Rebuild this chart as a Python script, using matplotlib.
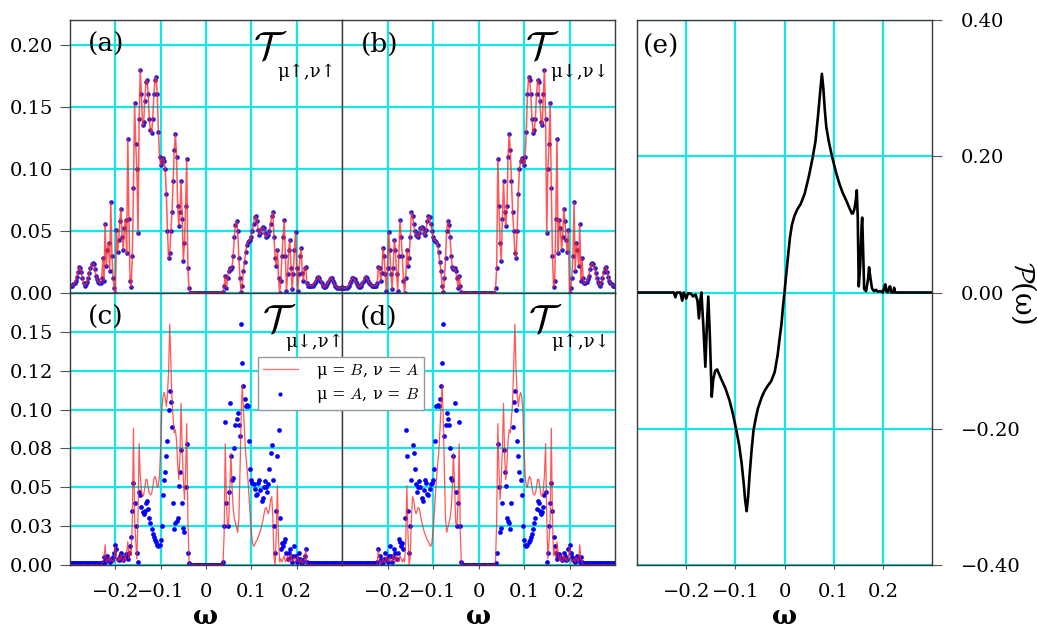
import numpy as np
import matplotlib
matplotlib.use("Agg")
import matplotlib.pyplot as plt
from matplotlib.lines import Line2D

# omega grid of panels (a)-(d), step 0.0025 from -0.3 to 0.3 (241 points)
omega = np.round(np.arange(-120, 121) * 0.0025, 4)

# (a) T_{mu up, nu up}; the two orderings coincide here. (b) is its mirror image.
t_upup = [
    0.006, 0.006, 0.006, 0.007, 0.008, 0.010, 0.013, 0.017, 0.021, 0.020,
    0.017, 0.012, 0.008, 0.006, 0.007, 0.009, 0.012, 0.016, 0.020, 0.023,
    0.024, 0.023, 0.019, 0.014, 0.011, 0.009, 0.008, 0.008, 0.012, 0.028,
    0.010, 0.056, 0.022, 0.035, 0.040, 0.018, 0.073, 0.030, 0.012, 0.004,
    0.000, 0.051, 0.033, 0.043, 0.058, 0.068, 0.045, 0.035, 0.052, 0.059,
    0.032, 0.124, 0.060, 0.010, 0.005, 0.030, 0.085, 0.153, 0.120, 0.100,
    0.048, 0.140, 0.180, 0.160, 0.135, 0.138, 0.155, 0.170, 0.172, 0.160,
    0.140, 0.131, 0.129, 0.140, 0.160, 0.172, 0.174, 0.160, 0.130, 0.110,
    0.103, 0.106, 0.109, 0.106, 0.100, 0.080, 0.050, 0.028, 0.032, 0.050,
    0.065, 0.090, 0.115, 0.128, 0.110, 0.070, 0.054, 0.065, 0.090, 0.060,
    0.026, 0.040, 0.070, 0.108, 0.020, 0.004, 0.000, 0.000, 0.000, 0.000,
    0.000, 0.000, 0.000, 0.000, 0.000, 0.000, 0.000, 0.000, 0.000, 0.000,
    0.000, 0.000, 0.000, 0.000, 0.000, 0.000, 0.000, 0.000, 0.000, 0.000,
    0.000, 0.000, 0.000, 0.000, 0.000, 0.001, 0.006, 0.014, 0.004, 0.012,
    0.018, 0.020, 0.019, 0.021, 0.030, 0.045, 0.055, 0.058, 0.050, 0.028,
    0.012, 0.001, 0.006, 0.018, 0.025, 0.033, 0.039, 0.041, 0.042, 0.043,
    0.045, 0.050, 0.056, 0.061, 0.062, 0.058, 0.051, 0.047, 0.048, 0.052,
    0.053, 0.052, 0.048, 0.045, 0.046, 0.047, 0.050, 0.056, 0.062, 0.065,
    0.045, 0.028, 0.022, 0.035, 0.012, 0.000, 0.010, 0.030, 0.045, 0.059,
    0.030, 0.002, 0.015, 0.035, 0.043, 0.020, 0.003, 0.015, 0.035, 0.049,
    0.020, 0.002, 0.015, 0.030, 0.036, 0.016, 0.010, 0.020, 0.021, 0.008,
    0.006, 0.006, 0.006, 0.006, 0.006, 0.007, 0.008, 0.010, 0.012, 0.013,
    0.012, 0.010, 0.008, 0.006, 0.005, 0.005, 0.006, 0.007, 0.009, 0.011,
    0.012, 0.012, 0.010, 0.008, 0.006, 0.005, 0.004, 0.004, 0.004, 0.004,
    0.005,
]

# (c) T_{mu down, nu up}; (d) is its mirror image
t_dnup_BA = [
    0.000, 0.000, 0.000, 0.000, 0.000, 0.000, 0.000, 0.000, 0.000, 0.000,
    0.000, 0.000, 0.000, 0.000, 0.000, 0.000, 0.000, 0.000, 0.000, 0.000,
    0.000, 0.000, 0.000, 0.000, 0.000, 0.000, 0.000, 0.000, 0.000, 0.002,
    0.004, 0.013, 0.002, 0.003, 0.005, 0.002, 0.004, 0.003, 0.002, 0.005,
    0.012, 0.004, 0.002, 0.005, 0.003, 0.007, 0.003, 0.002, 0.006, 0.003,
    0.008, 0.015, 0.004, 0.010, 0.006, 0.030, 0.088, 0.030, 0.015, 0.004,
    0.030, 0.078, 0.058, 0.048, 0.044, 0.045, 0.050, 0.055, 0.055, 0.050,
    0.046, 0.045, 0.046, 0.050, 0.055, 0.057, 0.055, 0.050, 0.051, 0.058,
    0.075, 0.100, 0.108, 0.111, 0.108, 0.102, 0.110, 0.125, 0.155, 0.130,
    0.105, 0.095, 0.085, 0.087, 0.080, 0.065, 0.055, 0.070, 0.104, 0.075,
    0.055, 0.042, 0.060, 0.091, 0.030, 0.002, 0.000, 0.000, 0.000, 0.000,
    0.000, 0.000, 0.000, 0.000, 0.000, 0.000, 0.000, 0.000, 0.000, 0.000,
    0.000, 0.000, 0.000, 0.000, 0.000, 0.000, 0.000, 0.000, 0.000, 0.000,
    0.000, 0.000, 0.000, 0.000, 0.000, 0.001, 0.020, 0.078, 0.040, 0.025,
    0.027, 0.050, 0.072, 0.050, 0.036, 0.030, 0.027, 0.024, 0.021, 0.030,
    0.060, 0.095, 0.116, 0.100, 0.085, 0.072, 0.064, 0.055, 0.044, 0.032,
    0.021, 0.014, 0.012, 0.013, 0.015, 0.016, 0.018, 0.020, 0.022, 0.025,
    0.028, 0.032, 0.036, 0.037, 0.035, 0.033, 0.036, 0.042, 0.044, 0.030,
    0.005, 0.000, 0.020, 0.051, 0.015, 0.002, 0.004, 0.002, 0.004, 0.006,
    0.002, 0.003, 0.006, 0.002, 0.004, 0.007, 0.002, 0.003, 0.005, 0.002,
    0.003, 0.006, 0.002, 0.002, 0.004, 0.001, 0.002, 0.003, 0.010, 0.001,
    0.000, 0.000, 0.000, 0.000, 0.000, 0.000, 0.000, 0.000, 0.000, 0.000,
    0.000, 0.000, 0.000, 0.000, 0.000, 0.000, 0.000, 0.000, 0.000, 0.000,
    0.000, 0.000, 0.000, 0.000, 0.000, 0.000, 0.000, 0.000, 0.000, 0.000,
    0.000,
]

t_dnup_AB = [
    0.001, 0.001, 0.001, 0.001, 0.001, 0.001, 0.001, 0.001, 0.001, 0.001,
    0.001, 0.001, 0.001, 0.001, 0.001, 0.001, 0.001, 0.001, 0.001, 0.001,
    0.001, 0.001, 0.001, 0.001, 0.001, 0.001, 0.001, 0.001, 0.001, 0.002,
    0.005, 0.002, 0.004, 0.006, 0.003, 0.002, 0.004, 0.003, 0.005, 0.008,
    0.013, 0.010, 0.004, 0.003, 0.006, 0.008, 0.004, 0.003, 0.005, 0.007,
    0.006, 0.004, 0.008, 0.012, 0.018, 0.035, 0.053, 0.040, 0.025, 0.008,
    0.002, 0.047, 0.045, 0.037, 0.034, 0.033, 0.035, 0.040, 0.041, 0.036,
    0.030, 0.027, 0.023, 0.020, 0.018, 0.016, 0.015, 0.013, 0.012, 0.013,
    0.016, 0.025, 0.045, 0.055, 0.060, 0.070, 0.080, 0.100, 0.112, 0.105,
    0.089, 0.040, 0.023, 0.027, 0.028, 0.030, 0.051, 0.060, 0.074, 0.040,
    0.024, 0.021, 0.050, 0.078, 0.008, 0.001, 0.000, 0.000, 0.000, 0.000,
    0.000, 0.000, 0.000, 0.000, 0.000, 0.000, 0.000, 0.000, 0.000, 0.000,
    0.000, 0.000, 0.000, 0.000, 0.000, 0.000, 0.000, 0.000, 0.000, 0.000,
    0.000, 0.000, 0.000, 0.000, 0.000, 0.002, 0.025, 0.092, 0.040, 0.025,
    0.047, 0.104, 0.070, 0.055, 0.056, 0.075, 0.090, 0.094, 0.098, 0.090,
    0.083, 0.155, 0.130, 0.115, 0.107, 0.102, 0.103, 0.102, 0.080, 0.062,
    0.055, 0.053, 0.052, 0.049, 0.045, 0.046, 0.053, 0.055, 0.048, 0.041,
    0.043, 0.050, 0.054, 0.050, 0.047, 0.052, 0.062, 0.072, 0.077, 0.055,
    0.025, 0.008, 0.035, 0.070, 0.087, 0.030, 0.010, 0.014, 0.012, 0.015,
    0.017, 0.008, 0.004, 0.008, 0.010, 0.005, 0.002, 0.006, 0.012, 0.006,
    0.002, 0.004, 0.008, 0.004, 0.002, 0.001, 0.003, 0.006, 0.010, 0.002,
    0.001, 0.001, 0.001, 0.001, 0.001, 0.001, 0.001, 0.001, 0.001, 0.001,
    0.001, 0.001, 0.001, 0.001, 0.001, 0.001, 0.001, 0.001, 0.001, 0.001,
    0.001, 0.001, 0.001, 0.001, 0.001, 0.001, 0.001, 0.001, 0.001, 0.001,
    0.001,
]

# (e) polarisation P(omega)
omega_e = [
    -0.300, -0.225, -0.222, -0.219, -0.212, -0.208, -0.205, -0.200, -0.196,
    -0.190, -0.186, -0.181, -0.177, -0.174, -0.171, -0.169, -0.165, -0.161,
    -0.158, -0.155, -0.152, -0.148, -0.145, -0.141, -0.137, -0.130, -0.120,
    -0.112, -0.105, -0.098, -0.092, -0.087, -0.083, -0.080, -0.077, -0.074,
    -0.071, -0.067, -0.063, -0.058, -0.054, -0.047, -0.041, -0.035, -0.027,
    -0.020, -0.014, -0.010, -0.006, -0.003, 0.000, 0.003, 0.007, 0.011,
    0.015, 0.020, 0.026, 0.033, 0.041, 0.050, 0.057, 0.063, 0.068, 0.072,
    0.076, 0.079, 0.082, 0.085, 0.090, 0.095, 0.100, 0.106, 0.112, 0.118,
    0.125, 0.132, 0.137, 0.139, 0.142, 0.145, 0.147, 0.149, 0.151, 0.154,
    0.157, 0.158, 0.160, 0.162, 0.166, 0.170, 0.172, 0.175, 0.178, 0.182,
    0.186, 0.190, 0.195, 0.200, 0.203, 0.205, 0.207, 0.210, 0.213, 0.215,
    0.217, 0.221, 0.223, 0.225, 0.300,
]
pol_e = [
    0.000, 0.000, -0.007, 0.000, 0.000, -0.012, 0.000, -0.009, -0.001,
    -0.002, -0.006, -0.003, -0.012, -0.038, -0.010, 0.000, -0.050, -0.109,
    -0.050, -0.006, -0.060, -0.153, -0.128, -0.115, -0.113, -0.125, -0.141,
    -0.158, -0.178, -0.202, -0.225, -0.252, -0.280, -0.305, -0.321, -0.300,
    -0.268, -0.232, -0.202, -0.183, -0.170, -0.155, -0.145, -0.138, -0.130,
    -0.117, -0.092, -0.068, -0.045, -0.020, 0.000, 0.023, 0.052, 0.080,
    0.099, 0.112, 0.122, 0.130, 0.145, 0.172, 0.197, 0.222, 0.258, 0.290,
    0.321, 0.300, 0.268, 0.243, 0.222, 0.205, 0.190, 0.173, 0.159, 0.147,
    0.136, 0.124, 0.116, 0.116, 0.122, 0.135, 0.150, 0.110, 0.009, 0.040,
    0.100, 0.110, 0.060, 0.005, 0.002, 0.020, 0.037, 0.020, 0.006, 0.002,
    0.004, 0.001, 0.002, 0.000, 0.008, 0.012, 0.002, 0.000, 0.008, 0.009,
    0.000, 0.000, 0.007, 0.000, 0.000,
]

x_ticks = [-0.2, -0.1, 0.0, 0.1, 0.2]
x_ticklabels = ["\u22120.2", "\u22120.1", "0", "0.1", "0.2"]
ticks_ab = [0.0, 0.05, 0.10, 0.15, 0.20]
labels_ab = ["0.00", "0.05", "0.10", "0.15", "0.20"]
ticks_cd = [0.0, 0.025, 0.05, 0.075, 0.10, 0.125, 0.15]
labels_cd = ["0.00", "0.03", "0.05", "0.08", "0.10", "0.12", "0.15"]
ticks_e = [-0.4, -0.2, 0.0, 0.2, 0.4]
labels_e = ["\u22120.40", "\u22120.20", "0.00", "0.20", "0.40"]

plt.rcParams["font.family"] = ["DejaVu Serif", "DejaVu Sans"]
plt.rcParams["mathtext.fontset"] = "cm"

GRID = "#14e6e8"
RED = "#ff2020"
BLUE = "#0000ff"
W, H = 1037, 630

fig = plt.figure(figsize=(W / 100, H / 100), dpi=100)


def frame(x0, y0, x1, y1):
    return fig.add_axes([x0 / W, 1 - y1 / H, (x1 - x0) / W, (y1 - y0) / H])


def style(ax, ylim, yticks, ylabels, show_x, show_y):
    ax.set_xlim(-0.3, 0.3)
    ax.set_ylim(*ylim)
    ax.set_xticks(x_ticks)
    ax.set_yticks(yticks)
    ax.set_axisbelow(True)
    ax.grid(True, color=GRID, lw=1.6)
    for s in ax.spines.values():
        s.set_color("#3a3a3a")
        s.set_linewidth(1.0)
    if show_x:
        ax.set_xticklabels(x_ticklabels)
        ax.tick_params(axis="x", length=3, pad=10, labelsize=14, color="#555555")
        ax.set_xlabel("ω", fontsize=19, fontweight="bold", va="center")
    else:
        ax.tick_params(axis="x", length=0, labelbottom=False)
    if show_y:
        ax.set_yticklabels(ylabels)
        ax.tick_params(axis="y", length=7, pad=5, labelsize=14, color="#555555")
    else:
        ax.tick_params(axis="y", length=0, labelleft=False)


def title(ax, tag, sub, tx, sx, sy, tag_x=0.066):
    ax.text(tag_x, 0.955, tag, transform=ax.transAxes, fontsize=19, va="top", ha="left")
    ax.text(tx, 0.965, r"$\mathcal{T}$", transform=ax.transAxes, fontsize=28,
            va="top", ha="left")
    ax.text(sx, sy, sub, transform=ax.transAxes, fontsize=13, va="center", ha="left")


ax_a = frame(70, 20, 342, 293)
ax_b = frame(342, 20, 615, 293)
ax_c = frame(70, 293, 342, 565)
ax_d = frame(342, 293, 615, 565)
ax_e = frame(637, 20, 932, 565)

# (a) / (b)
for ax, x in ((ax_a, omega), (ax_b, -omega)):
    ax.plot(x, t_upup, ls="none", marker="o", ms=3.3, mew=0, color="#1a1ae0")
    ax.plot(x, t_upup, color=RED, lw=1.1, alpha=0.75)

# (c) / (d)
for ax, x in ((ax_c, omega), (ax_d, -omega)):
    ax.plot(x, t_dnup_AB, ls="none", marker="o", ms=3.4, mew=0, color=BLUE)
    ax.plot(x, t_dnup_BA, color=RED, lw=0.9, alpha=0.75)

style(ax_a, (0, 0.22), ticks_ab, labels_ab, False, True)
style(ax_b, (0, 0.22), ticks_ab, labels_ab, False, False)
style(ax_c, (0, 0.175), ticks_cd, labels_cd, True, True)
style(ax_d, (0, 0.175), ticks_cd, labels_cd, True, False)
for ax in (ax_c, ax_d):
    ax.xaxis.set_label_coords(0.5, -0.19)

title(ax_a, "(a)", "μ↑,ν↑", 0.673, 0.762, 0.81)
title(ax_b, "(b)", "μ↓,ν↓", 0.670, 0.762, 0.81, tag_x=0.07)
title(ax_c, "(c)", "μ↓,ν↑", 0.705, 0.790, 0.82)
title(ax_d, "(d)", "μ↑,ν↓", 0.680, 0.766, 0.82)

# (e)
ax_e.plot(omega_e, pol_e, color="black", lw=1.9)
style(ax_e, (-0.4, 0.4), ticks_e, labels_e, True, False)
ax_e.xaxis.set_label_coords(0.5, -0.095)
ax_e.yaxis.tick_right()
ax_e.set_yticklabels(labels_e)
ax_e.tick_params(axis="y", which="both", right=True, left=False, labelright=True,
                 labelleft=False, length=7, pad=14, labelsize=14, color="#555555")
ax_e.yaxis.set_label_position("right")
ax_e.set_ylabel(r"$\mathcal{P}$(ω)", fontsize=20, rotation=-90, va="center", ha="center")
ax_e.yaxis.set_label_coords(1.31, 0.5)
ax_e.text(0.02, 0.975, "(e)", transform=ax_e.transAxes, fontsize=19, va="top", ha="left")

handles = [
    Line2D([], [], color=RED, lw=1.0, alpha=0.6),
    Line2D([], [], ls="none", marker="o", ms=3, mew=0, color=BLUE),
]
fig.legend(handles, [r"μ = $B$, ν = $A$", r"μ = $A$, ν = $B$"],
           loc="lower left", bbox_to_anchor=(258 / W, 1 - 410 / H), borderaxespad=0,
           fontsize=11.5, fancybox=False, framealpha=1, edgecolor="#999999",
           handlelength=2.2, handletextpad=1.1, borderpad=0.3, labelspacing=0.35)

fig.savefig("out.png", dpi=100)
